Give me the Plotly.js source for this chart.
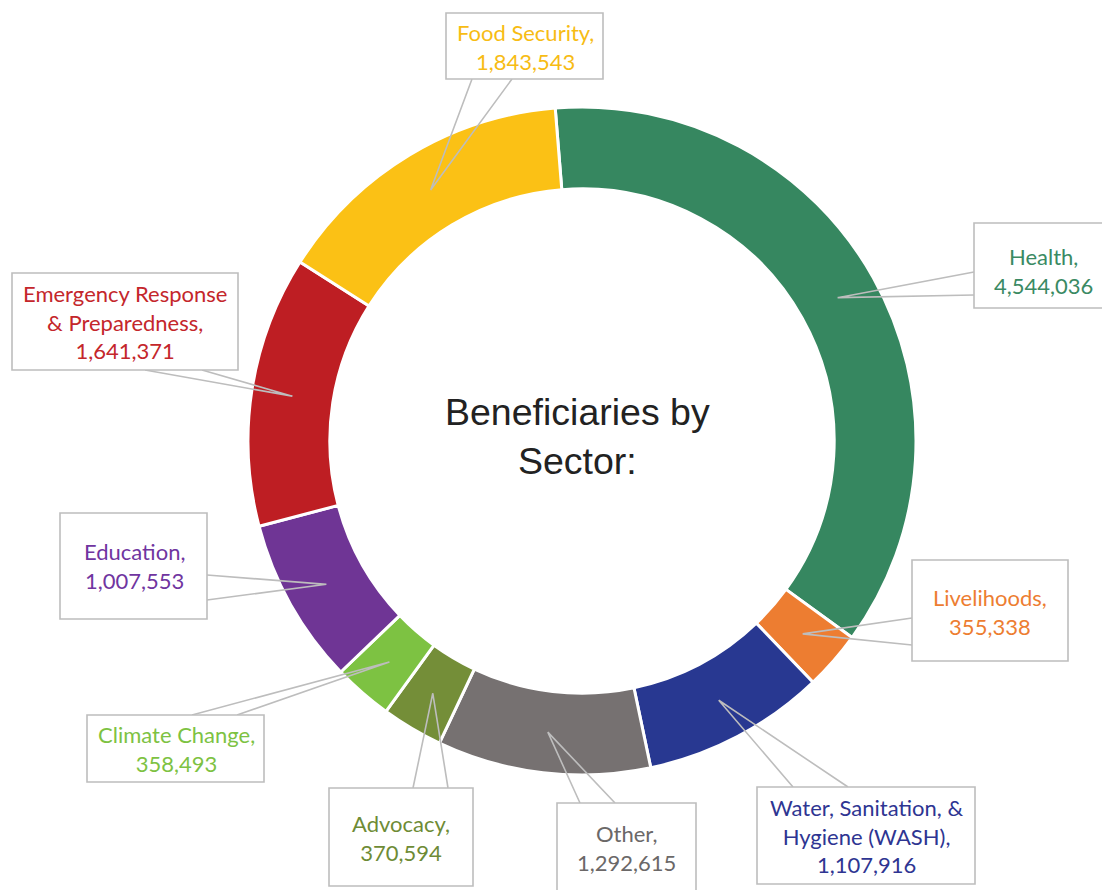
<!DOCTYPE html>
<html>
<head>
<meta charset="utf-8">
<script src="https://cdn.plot.ly/plotly-3.0.1.min.js"></script>
<style>
  html, body { margin: 0; padding: 0; background: #ffffff; }
  #chart { width: 1102px; height: 890px; }
</style>
</head>
<body>
<div id="chart"></div>
<script>
// ---------------- data ----------------
const sectors = ["Health", "Livelihoods", "Water, Sanitation, &<br>Hygiene (WASH)", "Other", "Advocacy",
                 "Climate Change", "Education", "Emergency Response<br>& Preparedness", "Food Security"];
const beneficiaries = [4544036, 355338, 1107916, 1292615, 370594, 358493, 1007553, 1641371, 1843543];
const sliceColors = ["#368760", "#ED7D31", "#283891", "#767171", "#748E38",
                     "#7DC242", "#6F3595", "#BE1E23", "#FBC115"];
const labelColors = ["#3A8A63", "#ED7D31", "#2E3592", "#6B6868", "#6E8B35",
                     "#7DC242", "#7035A0", "#C4262B", "#F7BC14"];
const centerTitle = "Beneficiaries by<br>Sector:";

// ---------------- layout geometry (pixels) ----------------
const W = 1102, H = 890;
const CX = 582, CY = 441, R_OUT = 334, HOLE = 0.755;
const ROTATION = -4.6;
// callout boxes [x0, y0, x1, y1] and wedge base points [[x,y],[x,y]] in pixels, same order as sectors
const boxes = [
  [974, 223, 1106, 308],
  [912, 560, 1068, 661],
  [757, 787, 975, 884],
  [557, 803, 696, 895],
  [329, 788, 473, 886],
  [87, 715, 264, 782],
  [60, 513, 207, 619],
  [12, 273, 238, 370],
  [446, 13, 603, 79]
];
const wedgeBases = [
  [[974, 272], [974, 295]],
  [[912, 618], [912, 645]],
  [[793, 787], [848, 787]],
  [[580, 803], [615, 803]],
  [[413, 788], [448, 788]],
  [[192, 715], [237, 715]],
  [[207, 575], [207, 600]],
  [[145, 370], [202, 370]],
  [[472, 79], [512, 79]]
];
const textCenters = [
  [1043, 271], [990, 612], [866, 836], [626, 848], [401, 838],
  [176, 749], [134, 566], [125, 322], [525, 47]
];

const px = x => x / W;
const py = y => 1 - y / H;

// ---------------- build ----------------
const total = beneficiaries.reduce((a, b) => a + b, 0);
const rTip = R_OUT * (1 + HOLE) / 2;
let cum = 0;
const tips = beneficiaries.map(v => {
  const mid = ROTATION + (cum + v / 2) / total * 360;
  cum += v;
  const a = mid * Math.PI / 180;
  return [CX + rTip * Math.sin(a), CY - rTip * Math.cos(a)];
});

const trace = {
  type: "pie",
  labels: sectors.map(s => s.replace(/<br>/g, " ")),
  values: beneficiaries,
  sort: false,
  direction: "clockwise",
  rotation: ROTATION,
  hole: HOLE,
  textinfo: "none",
  marker: { colors: sliceColors, line: { color: "#ffffff", width: 3 } },
  domain: { x: [px(CX - R_OUT), px(CX + R_OUT)], y: [py(CY + R_OUT), py(CY - R_OUT)] },
  showlegend: false,
  hovertemplate: "%{label}: %{value:,}<extra></extra>"
};

const shapes = [];
const annotations = [];
const GRAY = "#BDBDBD";
sectors.forEach((s, i) => {
  const b = boxes[i], wb = wedgeBases[i], t = tips[i];
  shapes.push({
    type: "path", xref: "paper", yref: "paper", layer: "above",
    path: `M ${px(wb[0][0])} ${py(wb[0][1])} L ${px(t[0])} ${py(t[1])} L ${px(wb[1][0])} ${py(wb[1][1])}`,
    line: { color: GRAY, width: 1.6 }
  });
  shapes.push({
    type: "rect", xref: "paper", yref: "paper", layer: "above",
    x0: px(b[0]), x1: px(b[2]), y0: py(b[3]), y1: py(b[1]),
    line: { color: GRAY, width: 1.6 }, fillcolor: "rgba(255,255,255,1)"
  });
  annotations.push({
    xref: "paper", yref: "paper",
    x: px(textCenters[i][0]), y: py(textCenters[i][1]),
    xanchor: "center", yanchor: "middle", showarrow: false, align: "center",
    text: s + ",<br>" + beneficiaries[i].toLocaleString("en-US"),
    font: { family: "Lato, 'Open Sans', sans-serif", size: 22, color: labelColors[i] }
  });
});
annotations.push({
  xref: "paper", yref: "paper", x: px(577), y: py(436),
  xanchor: "center", yanchor: "middle", showarrow: false, align: "center",
  text: centerTitle,
  font: { family: "'Liberation Sans', Arial, sans-serif", size: 37.5, color: "#222222" }
});

const layout = {
  width: W, height: H, autosize: false,
  margin: { l: 0, r: 0, t: 0, b: 0, pad: 0 },
  paper_bgcolor: "#ffffff", plot_bgcolor: "#ffffff",
  shapes: shapes, annotations: annotations, showlegend: false
};

Plotly.newPlot("chart", [trace], layout, { displayModeBar: false, staticPlot: false });
</script>
</body>
</html>
